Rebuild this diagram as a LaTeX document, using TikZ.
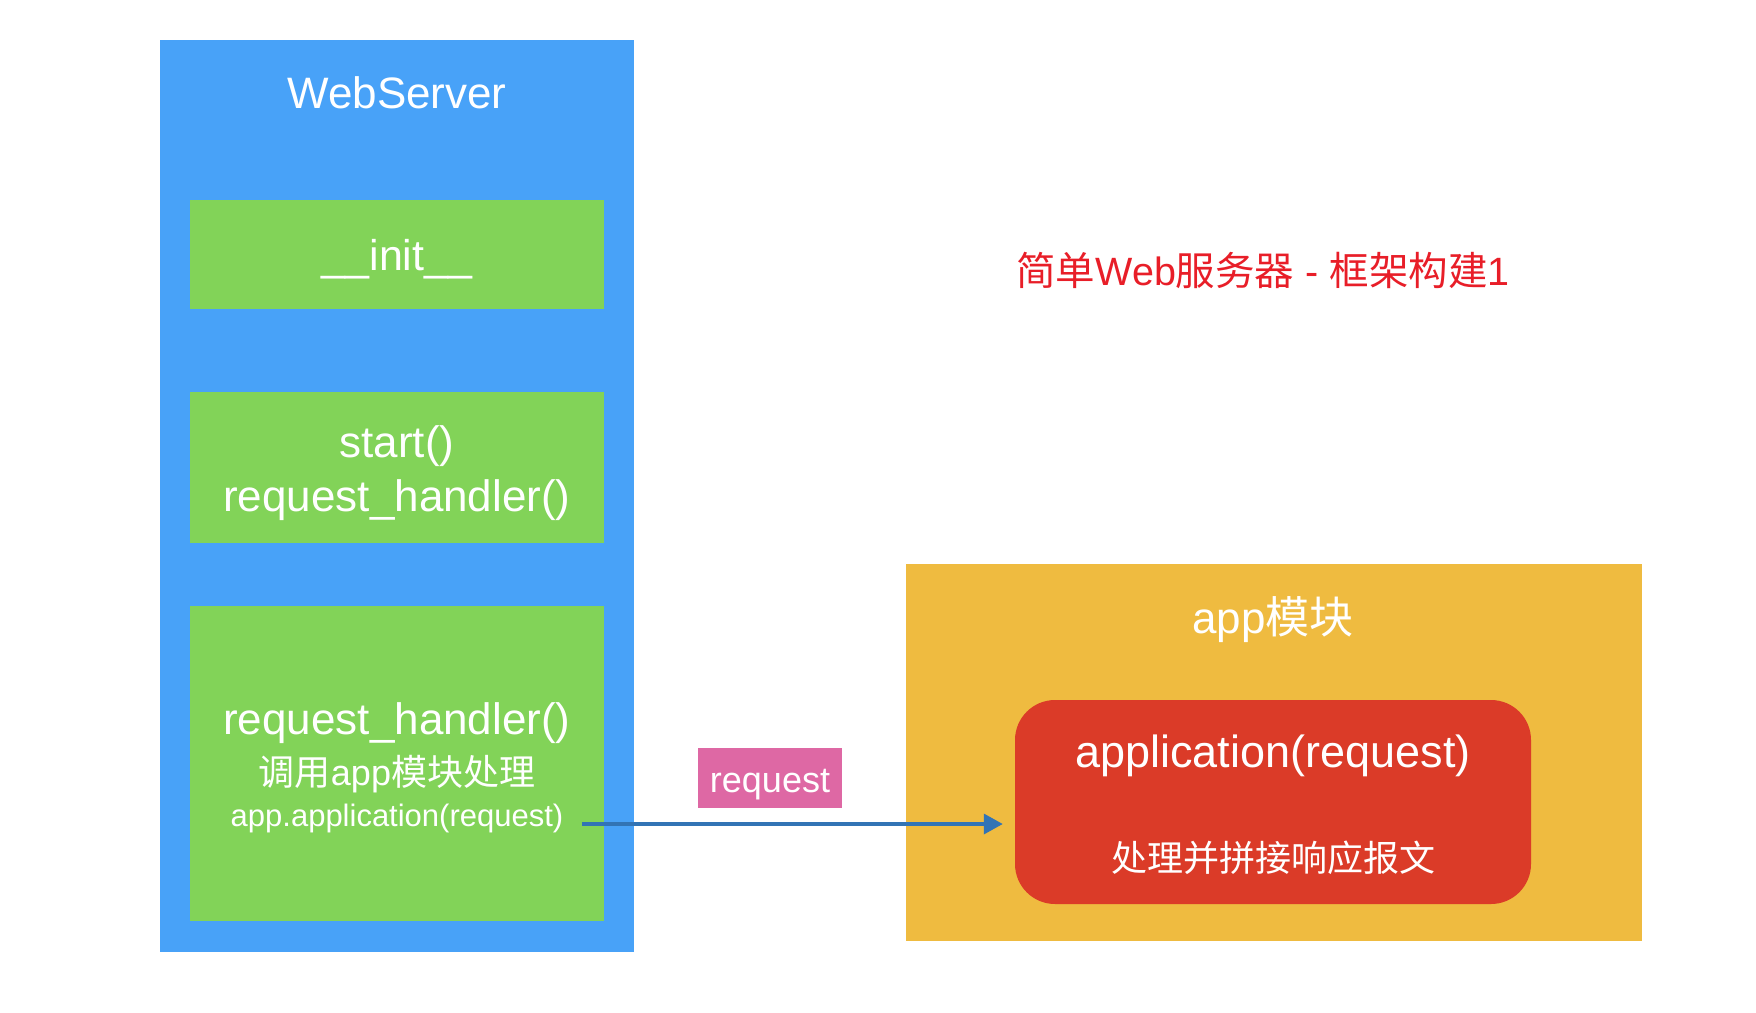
\documentclass[tikz,border=0pt]{standalone}
\usepackage{fontspec}
\setmainfont{Liberation Sans}
\newfontfamily\cjk{Noto Sans CJK SC}
\usetikzlibrary{arrows.meta}

\definecolor{serverblue}{RGB}{72,162,248}
\definecolor{methodgreen}{RGB}{130,211,88}
\definecolor{moduleorange}{RGB}{239,187,64}
\definecolor{funcred}{RGB}{219,59,40}
\definecolor{tagpink}{RGB}{222,104,164}
\definecolor{flowblue}{RGB}{50,116,181}
\definecolor{titlered}{RGB}{232,30,40}

\newcommand{\fs}[1]{\fontsize{#1}{#1}\selectfont}

\begin{document}
\begin{tikzpicture}[
        x=1pt, y=-1pt,
        every node/.style={align=center, inner sep=0pt, text=white},
        panel/.style={fill=#1, minimum width=414pt},
        flow/.style={draw=flowblue, line width=3.5pt,
                     -{Triangle[length=19pt,width=20pt]}},
    ]
    \useasboundingbox (0,0) rectangle (1756,1012);

    % --- WebServer column with its three method boxes -----------------------
    \node[fill=serverblue, minimum width=474pt, minimum height=912pt]
        (server) at (397,496) {};
    \node[font=\fs{44}] (servertitle) at (397,93) {WebServer};

    \node[panel=methodgreen, minimum height=109pt] (initbox) at (397,254.5) {};
    \node[panel=methodgreen, minimum height=151pt] (startbox) at (397,467.5) {};
    \node[panel=methodgreen, minimum height=315pt] (handlerbox) at (397,763.5) {};

    % Method names inside the boxes
    \node[font=\fs{43}] (initname) at (397,259) {\_\_init\_\_};
    \node[font=\fontsize{44}{54}\selectfont] (startname) at (397,473)
        {start()\\request\_handler()};
    \node[font=\fs{44}] (handlername) at (397,723) {request\_handler()};
    \node[font=\fs{36}] (handlernote) at (397,774)
        {{\cjk 调用}app{\cjk 模块处理}};
    \node[font=\fs{31}] (handlercall) at (397,818) {app.application(request)};

    % --- app module on the right --------------------------------------------
    \node[fill=moduleorange, minimum width=736pt, minimum height=377pt]
        (appmod) at (1274,752.5) {};
    \node[font=\fs{44}] (appmodtitle) at (1273,620) {app{\cjk 模块}};
    \node[fill=funcred, rounded corners=40pt, minimum width=516pt,
          minimum height=204pt] (appfn) at (1273,802) {};
    \node[font=\fs{45}] (appfnname) at (1273,756) {application(request)};
    \node[font=\fs{36}] (appfnnote) at (1273,858)
        {\cjk 处理并拼接响应报文};

    % --- Heading ------------------------------------------------------------
    \node[font=\fs{39.5}, text=titlered] (heading) at (1263,270)
        {{\cjk 简单}Web{\cjk 服务器} - {\cjk 框架构建}1};

    % --- request arrow from the handler into the module ----------------------
    \coordinate (reqout) at (582,824);
    \draw[flow, shorten >=12pt] (reqout) -- (reqout -| appfn.west);
    \node[fill=tagpink, minimum width=144pt, minimum height=60pt,
          font=\fs{36}, text height=28pt, text depth=0pt]
        (reqtag) at (770,778) {request};

\end{tikzpicture}
\end{document}
